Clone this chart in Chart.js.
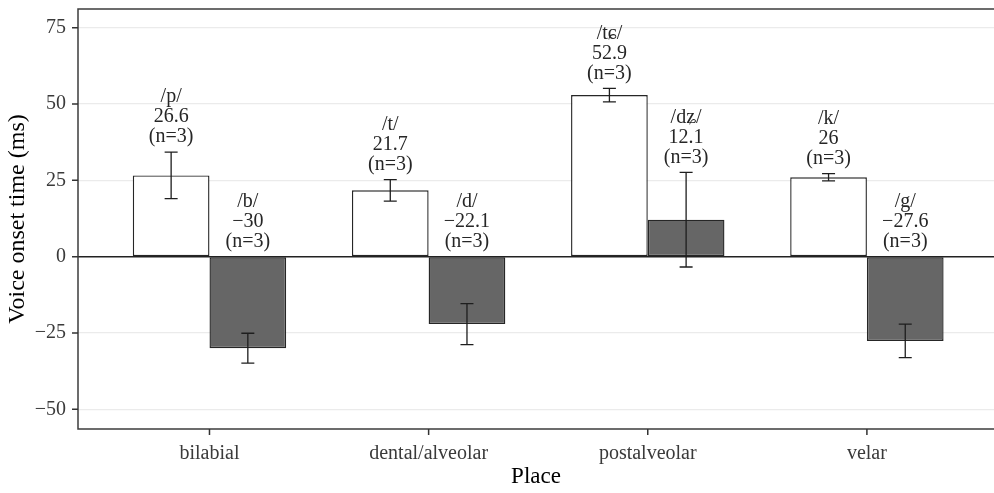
<!DOCTYPE html>
<html>
<head>
<meta charset="utf-8">
<script src="https://cdn.jsdelivr.net/npm/chart.js@4"></script>
<style>
html,body{margin:0;padding:0;background:#fff;}
#wrap{width:994px;height:493px;position:relative;}
</style>
</head>
<body>
<div id="wrap"><canvas id="c"></canvas></div>
<script>
const categories = ['bilabial', 'dental/alveolar', 'postalveolar', 'velar'];
const voicelessPhonemes = ['/p/', '/t/', '/tɕ/', '/k/'];
const voicelessMeans = [26.6, 21.7, 52.9, 26];
const voicelessSE = [7.6, 3.5, 2.2, 1.2];
const voicedPhonemes = ['/b/', '/d/', '/dʑ/', '/g/'];
const voicedMeans = [-30, -22.1, 12.1, -27.6];
const voicedSE = [4.9, 6.7, 15.5, 5.5];
const voicelessN = [3, 3, 3, 3];
const voicedN = [3, 3, 3, 3];
const yTicks = [-50, -25, 0, 25, 50, 75];

const FONT = "'Liberation Serif', 'DejaVu Serif', serif";
const fmt = v => (v < 0 ? '\u2212' + Math.abs(v) : String(v));

const series = [
  { phon: voicelessPhonemes, means: voicelessMeans, se: voicelessSE, n: voicelessN },
  { phon: voicedPhonemes, means: voicedMeans, se: voicedSE, n: voicedN }
];

const overlay = {
  id: 'overlay',
  afterDatasetsDraw(chart) {
    const ctx = chart.ctx, ys = chart.scales.y, xs = chart.scales.x, ca = chart.chartArea;
    ctx.save();
    const y0 = ys.getPixelForValue(0);
    ctx.strokeStyle = '#222';
    ctx.lineWidth = 1.5;
    ctx.beginPath();
    ctx.moveTo(ca.left, y0);
    ctx.lineTo(ca.right, y0);
    ctx.stroke();
    series.forEach((s, di) => {
      const meta = chart.getDatasetMeta(di);
      meta.data.forEach((bar, i) => {
        const m = s.means[i], se = s.se[i];
        const x = bar.x;
        const yt = ys.getPixelForValue(m + se);
        const yb = ys.getPixelForValue(m - se);
        ctx.strokeStyle = '#1e1e1e';
        ctx.lineWidth = 1.3;
        ctx.beginPath();
        ctx.moveTo(x, yt); ctx.lineTo(x, yb);
        ctx.moveTo(x - 6.5, yt); ctx.lineTo(x + 6.5, yt);
        ctx.moveTo(x - 6.5, yb); ctx.lineTo(x + 6.5, yb);
        ctx.stroke();
        const anchor = ys.getPixelForValue(Math.max(0, m + se));
        ctx.fillStyle = '#262626';
        ctx.font = '20px ' + FONT;
        ctx.textAlign = 'center';
        ctx.textBaseline = 'middle';
        const lines = [s.phon[i], fmt(m), '(n=' + s.n[i] + ')'];
        lines.forEach((t, k) => {
          ctx.fillText(t, x, anchor - 15 - (2 - k) * 20);
        });
      });
    });
    // panel frame (left, top, bottom)
    ctx.strokeStyle = '#3c3c3c';
    ctx.lineWidth = 1.5;
    ctx.beginPath();
    ctx.moveTo(ca.right + 2, ca.top);
    ctx.lineTo(ca.left, ca.top);
    ctx.lineTo(ca.left, ca.bottom);
    ctx.lineTo(ca.right + 2, ca.bottom);
    ctx.stroke();
    // axis tick marks
    ctx.strokeStyle = '#333';
    ctx.lineWidth = 1.5;
    ctx.beginPath();
    yTicks.forEach(v => {
      const py = ys.getPixelForValue(v);
      ctx.moveTo(ca.left - 6, py); ctx.lineTo(ca.left, py);
    });
    categories.forEach((_, i) => {
      const px = xs.getPixelForValue(i + 1);
      ctx.moveTo(px, ca.bottom); ctx.lineTo(px, ca.bottom + 6);
    });
    ctx.stroke();
    ctx.restore();
  }
};

new Chart(document.getElementById('c'), {
  type: 'bar',
  data: {
    datasets: [
      {
        label: 'voiceless',
        data: voicelessMeans.map((v, i) => ({ x: i + 1, y: v })),
        backgroundColor: '#ffffff',
        borderColor: '#262626',
        borderWidth: 1.4,
        borderSkipped: false,
        categoryPercentage: 0.7,
        barPercentage: 1.0
      },
      {
        label: 'voiced',
        data: voicedMeans.map((v, i) => ({ x: i + 1, y: v })),
        backgroundColor: '#666666',
        borderColor: '#262626',
        borderWidth: 1.4,
        borderSkipped: false,
        categoryPercentage: 0.7,
        barPercentage: 1.0
      }
    ]
  },
  options: {
    responsive: true,
    maintainAspectRatio: false,
    animation: false,
    layout: { padding: { left: 0, right: 0, top: 9, bottom: 0 } },
    plugins: { legend: { display: false }, tooltip: { enabled: false } },
    scales: {
      x: {
        type: 'linear',
        offset: false,
        min: 0.4,
        max: 4.58,
        afterFit: s => { s.height = 64; s.paddingLeft = 0; s.paddingRight = 0; },
        afterBuildTicks: s => { s.ticks = categories.map((_, i) => ({ value: i + 1 })); },
        grid: { offset: false, drawOnChartArea: false, drawTicks: true, tickLength: 5, tickColor: 'rgba(0,0,0,0)' },
        border: { display: false },
        ticks: {
          autoSkip: false, maxRotation: 0, padding: 8,
          color: '#3a3a3a',
          font: { family: FONT, size: 20 },
          callback: v => categories[Math.round(v) - 1]
        },
        title: {
          display: true, text: 'Place', color: '#000',
          font: { family: FONT, size: 23 },
          padding: { top: 0, bottom: 2 }
        }
      },
      y: {
        min: -56.45,
        max: 81.1,
        afterFit: s => { s.width = 78; s.paddingTop = 0; s.paddingBottom = 0; },
        afterBuildTicks: s => { s.ticks = yTicks.map(v => ({ value: v })); },
        grid: {
          color: c => (c.tick && c.tick.value === 0 ? 'rgba(0,0,0,0)' : '#ebebeb'),
          lineWidth: 1.2,
          drawTicks: true, tickLength: 5, tickColor: 'rgba(0,0,0,0)'
        },
        border: { display: false },
        ticks: {
          padding: 7, color: '#3a3a3a',
          font: { family: FONT, size: 20 },
          callback: v => fmt(v)
        },
        title: {
          display: true, text: 'Voice onset time (ms)', color: '#000',
          font: { family: FONT, size: 24 },
          padding: { top: 3, bottom: 0 }
        }
      }
    }
  },
  plugins: [overlay]
});
</script>
</body>
</html>
